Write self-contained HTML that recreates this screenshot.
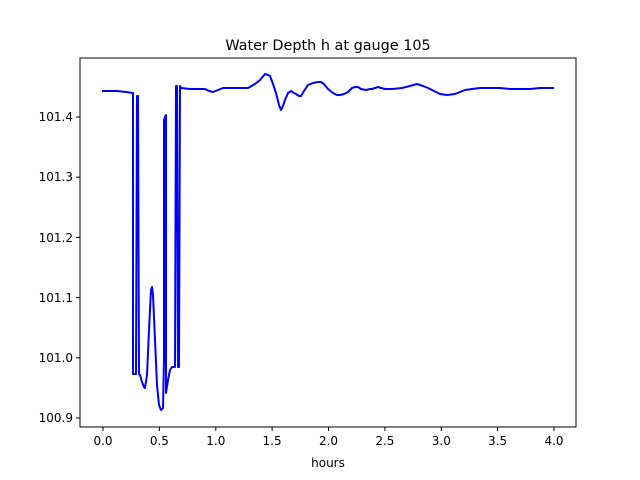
<!DOCTYPE html>
<html><head><style>body{margin:0;background:#fff}svg{display:block}text{font-family:"DejaVu Sans","Liberation Sans",sans-serif;fill:#000}</style></head>
<body>
<svg width="640" height="480" viewBox="0 0 640 480" xmlns="http://www.w3.org/2000/svg">
<rect width="640" height="480" fill="#fff"/>
<text x="328" y="50" font-size="14.4" text-anchor="middle">Water Depth h at gauge 105</text>
<polyline fill="none" stroke="#0000ff" stroke-width="2" stroke-linejoin="round" points="
102,91 117,91 126,92 133,93 133,374 136,374 137,96 138,96 139,374 140,375 142,382 144,387 145,388 147,375 149,330 151,290 152,287 153,295 155,340 157,385 159,405 161,410 163,408 164,360 164,120 165,117 166,115 166,393 168,380 170,370 172,367 175,367 176,86 177,86 178,367 179,367 180,86 181,88 190,89 205,89 209,91 213,92 218,90 223,88 245,88 248,88 255,84 260,80 265,74 268,75 270,76 273,84 276,93 279,105 281,110 283,106 285,100 288,93 291,91 294,93 296,94 299,96 301,96 304,91 308,85 313,83 318,82 321,82 324,84 328,89 333,93 337,95 340,95 344,94 348,92 352,88 355,87 358,87 361,89 366,90 370,89 372,89 375,88 378,87 381,88 385,89 392,89 402,88 410,86 417,84 423,86 428,88 434,91 440,94 447,95 455,94 460,92 465,90 472,89 480,88 490,88 500,88 510,89 520,89 530,89 540,88 554,88"/>
<rect x="80" y="58" width="496" height="369" fill="none" stroke="#000" stroke-width="1"/>
<g stroke="#000" stroke-width="1">
<line x1="103" y1="427" x2="103" y2="431"/><line x1="159.4" y1="427" x2="159.4" y2="431"/><line x1="215.8" y1="427" x2="215.8" y2="431"/><line x1="272.1" y1="427" x2="272.1" y2="431"/><line x1="328.5" y1="427" x2="328.5" y2="431"/><line x1="384.9" y1="427" x2="384.9" y2="431"/><line x1="441.3" y1="427" x2="441.3" y2="431"/><line x1="497.6" y1="427" x2="497.6" y2="431"/><line x1="554" y1="427" x2="554" y2="431"/>
<line x1="76" y1="418" x2="80" y2="418"/><line x1="76" y1="357.8" x2="80" y2="357.8"/><line x1="76" y1="297.6" x2="80" y2="297.6"/><line x1="76" y1="237.4" x2="80" y2="237.4"/><line x1="76" y1="177.2" x2="80" y2="177.2"/><line x1="76" y1="117" x2="80" y2="117"/>
</g>
<g font-size="12" text-anchor="middle">
<text x="103" y="445">0.0</text><text x="159.4" y="445">0.5</text><text x="215.8" y="445">1.0</text><text x="272.1" y="445">1.5</text><text x="328.5" y="445">2.0</text><text x="384.9" y="445">2.5</text><text x="441.3" y="445">3.0</text><text x="497.6" y="445">3.5</text><text x="554" y="445">4.0</text>
<text x="328" y="467">hours</text>
</g>
<g font-size="12" text-anchor="end">
<text x="73" y="422">100.9</text><text x="73" y="362">101.0</text><text x="73" y="302">101.1</text><text x="73" y="242">101.2</text><text x="73" y="181">101.3</text><text x="73" y="121">101.4</text>
</g>
</svg>
</body></html>
